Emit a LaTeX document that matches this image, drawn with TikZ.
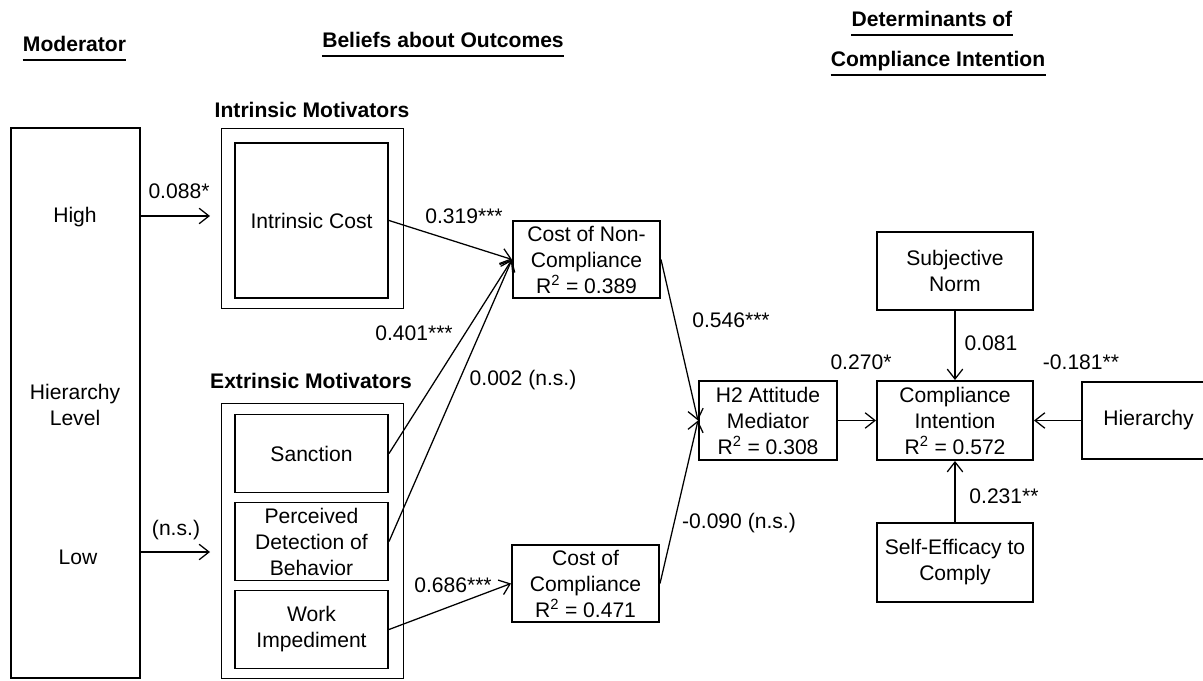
\documentclass[tikz,border=0pt]{standalone}
\usepackage{fontspec}
\setmainfont{Liberation Sans}
\usetikzlibrary{arrows.meta}

\begin{document}
\begin{tikzpicture}[x=0.025cm,y=-0.025cm,
  font=\fontsize{15}{18.5}\selectfont,
  box/.style={draw,line width=1.4pt,align=center,inner sep=0pt},
  motframe/.style={draw,line width=0.6pt,inner sep=0pt},
  head/.style={font=\fontsize{15}{18}\selectfont\bfseries,inner sep=0pt,anchor=base},
  uline/.style={line width=2pt},
  lbl/.style={inner sep=0pt},
  arr/.style={line width=0.9pt,-{Straight Barb[length=7pt,width=11pt]}}]
\useasboundingbox (0,0) rectangle (1203,681);

% column headings
\node[head] (modhead) at (74.5,52) {Moderator};
\node[head] (belhead) at (443,48) {Beliefs about Outcomes};
\node[head] (dethead) at (932,27) {Determinants of};
\node[head] (cihead) at (938,67) {Compliance Intention};
\foreach \h in {modhead,belhead,dethead,cihead}
  \draw[uline] ([yshift=-0.2cm]\h.base west) -- ([yshift=-0.2cm]\h.base east);

% moderator
\node[box,minimum width=3.225cm,minimum height=13.75cm] (mod) at (75.5,403) {};
\node (high) at (75,217) {High};
\node[align=center] (level) at (75,405) {Hierarchy\\Level};
\node (low) at (78,557) {Low};

% motivators
\node[head] (intrhead) at (312,118) {Intrinsic Motivators};
\node[motframe,minimum width=4.55cm,minimum height=4.5cm] (intrframe) at (312,218) {};
\node[box,minimum width=3.825cm,minimum height=3.875cm] (intr) at (311.5,220.5) {Intrinsic Cost};
\node[head] (extrhead) at (311,389) {Extrinsic Motivators};
\node[motframe,minimum width=4.55cm,minimum height=6.875cm] (extrframe) at (312,540.5) {};
\node[box,minimum width=3.825cm,minimum height=1.95cm] (sanct) at (311.5,453.5) {Sanction};
\node[box,minimum width=3.825cm,minimum height=1.95cm] (detect) at (311.5,541.5) {Perceived\\Detection of\\Behavior};
\node[box,minimum width=3.825cm,minimum height=1.95cm] (work) at (311.5,629.5) {Work\\Impediment};

% costs
\node[box,minimum width=3.675cm,minimum height=1.925cm] (costnc) at (586.5,259.5) {Cost of Non-\\Compliance\\R\textsuperscript{2} = 0.389};
\node[box,minimum width=3.675cm,minimum height=1.925cm] (costc) at (585.5,583.5) {Cost of\\Compliance\\R\textsuperscript{2} = 0.471};

% determinants
\node[box,minimum width=3.45cm,minimum height=1.975cm] (att) at (768,420.5) {H2 Attitude\\Mediator\\R\textsuperscript{2} = 0.308};
\node[box,minimum width=3.9cm,minimum height=1.975cm] (ci) at (955,420.5) {Compliance\\Intention\\R\textsuperscript{2} = 0.572};
\node[box,minimum width=3.9cm,minimum height=1.95cm] (norm) at (955,271) {Subjective\\Norm};
\node[box,minimum width=3.9cm,minimum height=1.975cm] (selfeff) at (955,562.5) {Self-Efficacy to\\Comply};
\node[box,minimum width=3.325cm,minimum height=1.925cm] (hier) at (1148.5,420.5) {Hierarchy};

% paths
\coordinate (hiend) at (210,216);
\coordinate (loend) at (210,552);
\draw[arr] (mod.east |- hiend) -- (hiend);
\draw[arr] (mod.east |- loend) -- (loend);
\draw[arr] (intr.east) -- (costnc.west);
\draw[arr] (sanct.east) -- (costnc.west);
\draw[arr] (detect.east) -- (costnc.west);
\draw[arr] (work.east) -- (costc.west);
\draw[arr] (costnc.east) -- (att.west);
\draw[arr] (costc.east) -- (att.west);
\draw[arr] (att.east) -- (ci.west);
\draw[arr] (hier.west) -- (ci.east);
\draw[arr] (norm.south) -- (ci.north);
\draw[arr] (selfeff.north) -- (ci.south);

% coefficients
\node[lbl] (c088) at (179,191) {0.088*};
\node[lbl] (cns) at (176,530) {(n.s.)};
\node[lbl] (c319) at (464,216) {0.319***};
\node[lbl] (c401) at (414,333) {0.401***};
\node[lbl] (c002) at (523,380) {0.002 (n.s.)};
\node[lbl] (c686) at (453,585) {0.686***};
\node[lbl] (c546) at (731,320) {0.546***};
\node[lbl] (c090) at (739,523) {-0.090 (n.s.)};
\node[lbl] (c270) at (861,362) {0.270*};
\node[lbl] (c081) at (991,343) {0.081};
\node[lbl] (c181) at (1081,362) {-0.181**};
\node[lbl] (c231) at (1004,496) {0.231**};
\end{tikzpicture}
\end{document}
